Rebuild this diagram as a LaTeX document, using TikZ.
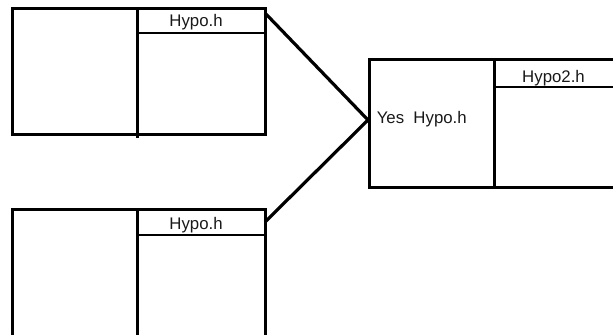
\documentclass[tikz,border=0pt]{standalone}
\usepackage{fontspec}
\setmainfont{Liberation Sans}
\usetikzlibrary{fit}
\begin{document}
\begin{tikzpicture}[x=0.75pt,y=-0.75pt,
  outerbox/.style={draw, line width=2.25pt, inner sep=0pt},
  hdrbox/.style={draw, line width=1.6pt, inner sep=0pt},
  divline/.style={line width=2.25pt},
  conn/.style={line width=2.4pt},
  lbl/.style={anchor=base, inner sep=0pt, font=\fontsize{12.6}{15}\selectfont, text=black!90}]
\useasboundingbox (0,0) rectangle (613,335);
% top-left box
\node[outerbox, fit={(12,9) (265,134)}] (A) {};
\draw[divline] (137,9) -- (137,138);
\node[hdrbox, fit={(137,9) (265,33)}] (Ah) {};
\node[lbl] (At) at (196,27) {Hypo.h};
% bottom-left box
\node[outerbox, fit={(12,209) (265,350)}] (B) {};
\draw[divline] (137,209) -- (137,350);
\node[hdrbox, fit={(137,209) (265,235)}] (Bh) {};
\node[lbl] (Bt) at (196,229.3) {Hypo.h};
% right box
\node[outerbox, fit={(369,60) (622,187)}] (C) {};
\draw[divline] (494,60) -- (494,187);
\node[hdrbox, fit={(494,60) (622,87)}] (Ch) {};
\node[lbl] (Ct) at (553.5,83) {Hypo2.h};
\node[lbl, anchor=base west] (Cy) at (376.5,123.3) {Yes\ \ Hypo.h};
% connectors
\coordinate (As) at (265,13);
\coordinate (Bs) at (265,222);
\coordinate (M) at (368,120);
\draw[conn] (As) -- (M) -- (Bs);
\end{tikzpicture}
\end{document}
